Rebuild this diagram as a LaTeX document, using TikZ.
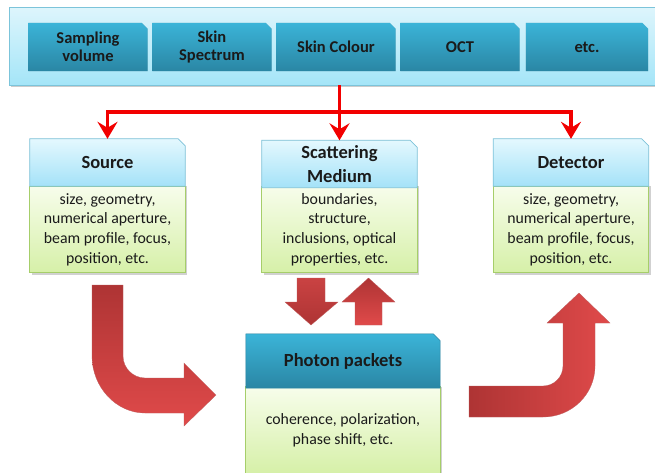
\documentclass[tikz,border=0pt]{standalone}
\usepackage{fontspec}
\setmainfont{Carlito}
\usetikzlibrary{arrows.meta,backgrounds,calc}
\definecolor{bantop}{HTML}{DDF5FC}
\definecolor{banbot}{HTML}{A4E5F8}
\definecolor{banline}{HTML}{7CC4DA}
\definecolor{btntop}{HTML}{3BB4D8}
\definecolor{btnbot}{HTML}{2A86A4}
\definecolor{hdtop}{HTML}{E4F8FE}
\definecolor{hdbot}{HTML}{A4E2F8}
\definecolor{hdline}{HTML}{7EC3DA}
\definecolor{bdtop}{HTML}{F7FDEB}
\definecolor{bdbot}{HTML}{D6F0A8}
\definecolor{bdline}{HTML}{A6CE6A}
\definecolor{arrdark}{HTML}{AE3434}
\definecolor{arrlight}{HTML}{E04A4A}
\definecolor{conred}{HTML}{F20000}
\definecolor{txt}{HTML}{1A1A1A}
\newcommand\chamf[3]{%
  \path[#1] (#2.south west) -- (#2.north west) -- ([xshift=-#3]#2.north east)
    -- ([yshift=-#3]#2.north east) -- (#2.south east) -- cycle;}
\newcommand\chamfshadow[2]{%
  \fill[black,opacity=0.18,xshift=1.8pt,yshift=-1.8pt] (#1.south west) -- (#1.north west) -- ([xshift=-#2]#1.north east)
    -- ([yshift=-#2]#1.north east) -- (#1.south east) -- cycle;}
\begin{document}
\begin{tikzpicture}[x=1pt,y=-1pt,
  btn/.style={minimum width=119pt,minimum height=48pt,inner sep=0pt,align=center,
    text=txt,font=\bfseries\fontsize{16.5}{18.5}\selectfont},
  hdr/.style={minimum width=155pt,minimum height=47pt,inner sep=0pt,align=center,
    text=txt,font=\bfseries\fontsize{18.5}{24}\selectfont},
  bdy/.style={minimum width=155pt,minimum height=86pt,inner sep=0pt,align=center,
    text=txt,font=\fontsize{15.8}{19.6}\selectfont},
  redln/.style={draw=conred,line width=3.4pt,-{Stealth[length=17pt,width=20pt,inset=6pt]}},
  bigarr/.style={draw=arrdark!80!white,line width=0.3pt}]
\useasboundingbox (0,0) rectangle (655,472);

% banner and buttons
\node[minimum width=647pt,minimum height=77pt,inner sep=0pt] (banner) at (333.5,46.5) {};
\node[btn] (b1) at (88,47) {Sampling\\volume};
\node[btn] (b2) at (212,47) {Skin\\Spectrum};
\node[btn] (b3) at (336,47) {Skin Colour};
\node[btn] (b4) at (460,47) {OCT};
\node[btn,minimum width=122pt] (b5) at (587,47) {etc.};

% top boxes
\node[hdr] (srch) at (107.5,162.5) {\raisebox{-1.5pt}{Source}};
\node[bdy] (srcb) at (107.5,229.5) {size, geometry,\\numerical aperture,\\beam profile, focus,\\position, etc.};
\node[hdr] (scath) at (339.5,164) {Scattering\\Medium};
\node[bdy] (scatb) at (339.5,229.5) {boundaries,\\structure,\\inclusions, optical\\properties, etc.};
\node[hdr] (deth) at (571,162.5) {\raisebox{-1.5pt}{Detector}};
\node[bdy] (detb) at (571,229.5) {size, geometry,\\numerical aperture,\\beam profile, focus,\\position, etc.};

% photon packets
\node[hdr,minimum width=194pt,minimum height=54pt] (phh) at (343,361) {Photon packets};
\node[bdy,minimum width=194pt,minimum height=86pt] (phb) at (343,430) {coherence, polarization,\\phase shift, etc.};

\begin{pgfonlayer}{background}
  \clip (0,0) rectangle (655,472);
  \fill[white] (0,0) rectangle (655,472);
  % banner (runs past the right edge of the picture)
  \fill[black,opacity=0.2] ([xshift=1pt,yshift=-2pt]banner.south west) rectangle ([xshift=20pt]banner.north east);
  \shade[top color=bantop,bottom color=banbot,draw=banline,line width=0.8pt]
    (banner.south west) rectangle ([xshift=20pt]banner.north east);
  % buttons
  \foreach \b in {b1,b2,b3,b4,b5}{
    \chamfshadow{\b}{6pt}
    \chamf{top color=btntop,bottom color=btnbot}{\b}{6pt}
  }
  % boxes
  \foreach \h/\d in {srch/srcb,scath/scatb,deth/detb}{
    \fill[black,opacity=0.18] ([xshift=1.8pt,yshift=-1.8pt]\d.south west) rectangle ([xshift=1.8pt]\d.north east);
    \chamfshadow{\h}{7pt}
    \shade[top color=bdtop,bottom color=bdbot,draw=bdline,line width=0.8pt] (\d.south west) rectangle (\d.north east);
    \chamf{top color=hdtop,bottom color=hdbot,draw=hdline,line width=0.8pt}{\h}{7pt}
  }
  \fill[black,opacity=0.18] ([xshift=1.8pt,yshift=-1.8pt]phb.south west) rectangle ([xshift=1.8pt]phb.north east);
  \chamfshadow{phh}{7pt}
  \shade[top color=bdtop,bottom color=bdbot,draw=bdline,line width=0.8pt] (phb.south west) rectangle (phb.north east);
  \chamf{top color=btntop,bottom color=btnbot,draw=btnbot,line width=0.5pt}{phh}{7pt}
\end{pgfonlayer}

% red connectors
\coordinate (j) at (339.5,112);
\draw[redln] (banner.south -| scath.north) -- (scath.north);
\draw[redln] (j) -| (srch.north);
\draw[redln] (j) -| (deth.north);

% scattering <-> photon packets
\shade[top color=arrlight!90!black,bottom color=arrdark,bigarr]
  (297,278) -- (325,278) -- (325,302) -- (338,302) -- (311,325) -- (285,302) -- (297,302) -- cycle;
\shade[top color=arrdark,bottom color=arrlight,bigarr]
  (355,325) -- (382,325) -- (382,302) -- (395,302) -- (368.5,278) -- (342,302) -- (355,302) -- cycle;

% source -> photon packets
\shade[top color=arrdark,bottom color=arrlight,bigarr]
  (92,285) -- (123,285) -- (123,356) .. controls (123,368) and (133,378) .. (145,378)
  -- (184,378) -- (184,363) -- (216,395) -- (184,426) -- (184,413) -- (145,413)
  .. controls (116,413) and (92,387) .. (92,356) -- cycle;

% photon packets -> detector
\shade[left color=arrdark,right color=arrlight,bigarr]
  (469,386) -- (543,386) .. controls (554,386) and (563,377) .. (563,366) -- (563,323)
  -- (547,323) -- (579,293) -- (610,323) -- (595,323) -- (595,366)
  .. controls (595,394) and (572,417) .. (543,417) -- (469,417) -- cycle;
\end{tikzpicture}
\end{document}
